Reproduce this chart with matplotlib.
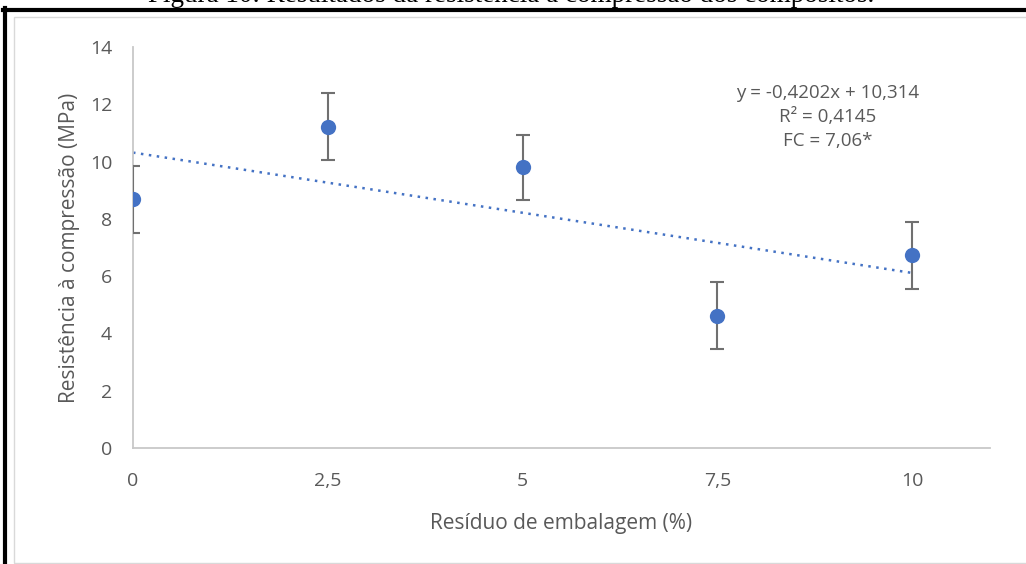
import matplotlib
matplotlib.use("Agg")
import matplotlib.pyplot as plt
from matplotlib.lines import Line2D
from matplotlib.patches import Rectangle
import numpy as np

# Data
residuo = [0, 2.5, 5, 7.5, 10]
resistencia = [8.69, 11.21, 9.80, 4.62, 6.73]
erro = [1.17, 1.17, 1.13, 1.16, 1.17]
x_ticks = [0, 2.5, 5, 7.5, 10]
x_tick_labels = ["0", "2,5", "5", "7,5", "10"]
y_ticks = [0, 2, 4, 6, 8, 10, 12, 14]
trend_slope = -0.4202
trend_intercept = 10.314
eq_lines = ["y = -0,4202x + 10,314", "R² = 0,4145", "FC = 7,06*"]
title = "Figura 10: Resultados da resistência à compressão dos compósitos."
xlabel = "Resíduo de embalagem (%)"
ylabel = "Resistência à compressão (MPa)"

W, H = 1026, 564
fig = plt.figure(figsize=(W / 100, H / 100), dpi=100)
fig.patch.set_facecolor("white")

font = ["Open Sans", "DejaVu Sans"]
gray_txt = "#595959"
blue = "#4472C4"

ax = fig.add_axes([133 / W, 1 - 448 / H, (990 - 133) / W, (448 - 47) / H])
ax.set_xlim(0, 11)
ax.set_ylim(0, 14)

ax.errorbar(residuo, resistencia, yerr=erro, fmt="none", ecolor="#707070",
            elinewidth=1.5, capsize=4.8, capthick=1.5, zorder=3)
ax.plot(residuo, resistencia, "o", color=blue, markersize=11, zorder=4,
        markeredgewidth=0)

xt = np.array([residuo[0], residuo[-1]])
ax.plot(xt, trend_slope * xt + trend_intercept, color=blue, linewidth=1.8,
        linestyle=(0, (1, 2.2)), zorder=2)

for s in ["top", "right"]:
    ax.spines[s].set_visible(False)
for s in ["left", "bottom"]:
    ax.spines[s].set_color("#C8C8C8")
    ax.spines[s].set_linewidth(1.3)

ax.set_xticks(x_ticks)
ax.set_xticklabels(x_tick_labels)
ax.set_yticks(y_ticks)
ax.tick_params(length=0, labelsize=14, labelcolor=gray_txt)
ax.tick_params(axis="x", pad=17)
ax.tick_params(axis="y", pad=15)
for lab in ax.get_xticklabels() + ax.get_yticklabels():
    lab.set_family(font)

ax.set_xlabel(xlabel, fontsize=15, color=gray_txt, family=font, labelpad=16.5)
ax.set_ylabel(ylabel, fontsize=15, color=gray_txt, family=font, labelpad=7)

for i, line in enumerate(eq_lines):
    fig.text(828 / W, 1 - (93 + 24 * i) / H, line, ha="center", va="center",
             fontsize=13.5, color=gray_txt, family=font)

# Title (cut off at top)
fig.text(511 / W, 1 - 1.5 / H, title, ha="center", va="baseline",
         fontsize=19.5, family=["Liberation Serif", "DejaVu Serif"], color="black")

# Gray chart frame
fig.add_artist(Rectangle((14 / W, 1 - 563 / H), (1040 - 14) / W, (563 - 17) / H,
                         transform=fig.transFigure, fill=False,
                         edgecolor="#D9D9D9", linewidth=1.0))
# Black outer border (top and left)
fig.add_artist(Line2D([3 / W, 1.0], [1 - 10 / H, 1 - 10 / H],
                      transform=fig.transFigure, color="black", linewidth=3.0))
fig.add_artist(Line2D([5 / W, 5 / W], [1 - 8 / H, 0],
                      transform=fig.transFigure, color="black", linewidth=3.0))

fig.savefig("out.png", dpi=100, facecolor="white")
